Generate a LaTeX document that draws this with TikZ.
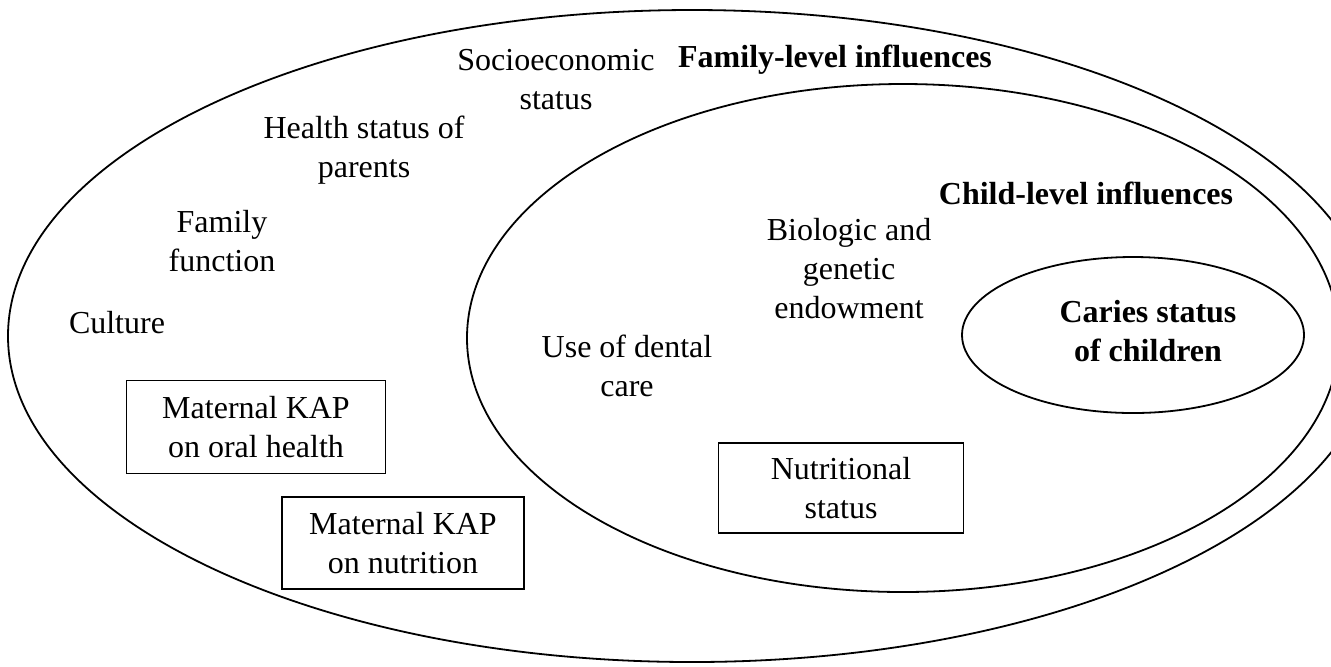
\documentclass[tikz,border=0pt]{standalone}
\usepackage{fontspec}
\setmainfont{Liberation Serif}
\usetikzlibrary{shapes.geometric}

\begin{document}
\begin{tikzpicture}[
  x=0.5pt, y=-0.5pt,
  font=\fontsize{16}{19.5}\selectfont,
  zone/.style  ={ellipse, draw, line width=0.9pt, inner sep=0pt},
  factor/.style={align=center, inner sep=1pt},
  level/.style ={align=center, inner sep=1pt, font=\fontsize{16}{19.5}\selectfont\bfseries},
  kap/.style   ={rectangle, draw, line width=0.9pt, align=center, inner sep=2pt},
]
\clip (0,0) rectangle (1331,666);

% ---- nested levels ----
\node[zone, minimum width=684pt, minimum height=326pt] (family) at (692,336) {};
\node[zone, minimum width=436pt, minimum height=254pt] (child)  at (903,338) {};
\node[zone, minimum width=171pt, minimum height=78pt]  (caries) at (1133,335) {};

% ---- level labels ----
\node[level] (famlab)    at (835,60)   {Family-level influences};
\node[level] (childlab)  at (1086,193) {Child-level influences};
\node[level] (carieslab) at (1148,331) {Caries status\\of children};

% ---- family-level factors ----
\node[factor] (socio)   at (556,80)  {Socioeconomic\\status};
\node[factor] (health)  at (364,150) {Health status of\\parents};
\node[factor] (func)    at (222,241) {Family\\function};
\node[factor] (culture) at (117,323) {Culture};
\node[kap, minimum width=129.5pt, minimum height=46.5pt] (kaporal) at (256,427) {Maternal KAP\\on oral health};
\node[kap, minimum width=121pt, minimum height=46pt]     (kapnut)  at (403,543) {Maternal KAP\\on nutrition};

% ---- child-level factors ----
\node[factor] (dental) at (627,366) {Use of dental\\care};
\node[factor] (bio)    at (849,269) {Biologic and\\genetic\\endowment};
\node[kap, minimum width=122.5pt, minimum height=45pt] (nutri) at (841,488) {Nutritional\\status};

\end{tikzpicture}
\end{document}
